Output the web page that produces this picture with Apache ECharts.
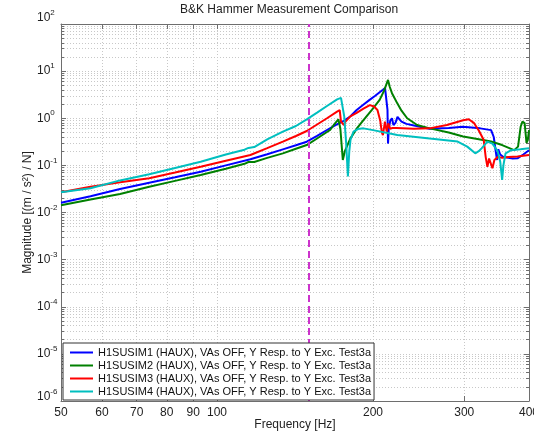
<!DOCTYPE html>
<html><head><meta charset="utf-8">
<script src="https://cdn.jsdelivr.net/npm/echarts@6/dist/echarts.min.js"></script>
<style>html,body{margin:0;padding:0;background:#fff}#c{width:534px;height:436px}</style>
</head><body><div id="c"></div>
<script>
const titleText = 'B&K Hammer Measurement Comparison';
const xName = 'Frequency [Hz]';
const yName = 'Magnitude [(m / s\u00B2) / N]';
const seriesNames = [
  'H1SUSIM1 (HAUX), VAs OFF, Y Resp. to Y Exc. Test3a',
  'H1SUSIM2 (HAUX), VAs OFF, Y Resp. to Y Exc. Test3a',
  'H1SUSIM3 (HAUX), VAs OFF, Y Resp. to Y Exc. Test3a',
  'H1SUSIM4 (HAUX), VAs OFF, Y Resp. to Y Exc. Test3a'
];
const seriesColors = ['#0000ff', '#008000', '#ff0000', '#00bfbf'];

const sim1Freq = [50,57,65,74,83,93,104,116,125,134,142,149,156,163,170,176,181,186,191,197,202,206,209,211,212.6,213.3,213.8,214.5,216,217.6,219,221,223,225,227,232,240,257,280,298,322,338,342,345,347,349,352,357,365,372,380,390,400];
const sim1Mag  = [0.0161,0.0222,0.0314,0.0429,0.0561,0.0734,0.100,0.1345,0.1725,0.219,0.267,0.318,0.425,0.563,0.736,0.89,1.1,1.5,1.88,2.45,3.0,3.57,4.03,4.37,4.65,1.5,0.29,0.6,0.9,1.0,0.72,0.8,1.07,0.95,0.85,0.76,0.7,0.6,0.62,0.66,0.61,0.56,0.4,0.2,0.13,0.22,0.17,0.15,0.145,0.14,0.141,0.17,0.21];

const sim2Freq = [50,57,65,74,83,93,104,113,115,118,125,134,142,149,156,163,165.3,168,171.5,173,174.9,176.5,180.8,186,191.7,199,206,210,213.8,215.5,217.6,222.8,227,232.8,243.3,257.3,280,298.5,320,338,355,367.5,374.5,381,385.4,388.5,392.3,395.6,398,400];
const sim2Mag  = [0.0142,0.0189,0.0247,0.0352,0.0469,0.0625,0.0846,0.108,0.118,0.118,0.144,0.180,0.225,0.27,0.372,0.51,0.563,0.72,0.95,0.6,0.13,0.2,0.37,0.6,0.91,1.5,2.46,3.8,6.5,4.6,3.4,2.07,1.45,1.0,0.72,0.61,0.5,0.41,0.36,0.32,0.27,0.23,0.21,0.25,0.66,0.85,0.79,0.3,0.35,0.56];

const sim3Freq = [50,57,65,74,83,93,104,116,125,134,142,149,156,163,170.5,172.5,173.5,175.6,177,180.8,186,191.7,197.2,201,204,206.5,208,209,210.9,212.6,214,215.8,218,222,240,257,277.7,298.5,306,313,320,327,330,332.5,335,337,340,343,348,355,365,380,400];
const sim3Mag  = [0.0268,0.0352,0.0436,0.0532,0.0703,0.0937,0.1256,0.166,0.232,0.318,0.42,0.537,0.736,1.0,1.38,1.48,0.85,0.72,0.85,1.1,1.3,1.6,1.9,1.77,1.5,0.9,0.5,0.44,0.85,0.52,0.78,0.6,0.62,0.62,0.6,0.61,0.72,0.91,0.95,0.8,0.55,0.35,0.15,0.093,0.14,0.15,0.087,0.13,0.15,0.145,0.15,0.155,0.166];

const sim4Freq = [50,57,65,74,83,93,104,113,115,118,125,134,142,149,156,163,170.5,173.5,175,176,177.5,178.9,180,181,183.4,187,191.7,200,222.8,257.3,291.3,304,315,320,324,332.5,340,348,352,355,357,360.4,369.6,385,400];
const sim4Mag  = [0.0268,0.0326,0.048,0.0647,0.088,0.1197,0.170,0.215,0.235,0.245,0.357,0.519,0.685,0.95,1.32,1.82,2.52,2.7,2.5,1.1,0.3,0.058,0.2,0.35,0.52,0.59,0.61,0.56,0.44,0.37,0.32,0.25,0.18,0.2,0.23,0.32,0.29,0.2,0.12,0.049,0.1,0.18,0.21,0.22,0.23];

const markerFreq = 150;
const xMin = 50, xMax = 400;
const yMin = 1e-6, yMax = 1e2;
const xTicks = [50,60,70,80,90,100,200,300,400];
const yMajorTicks = [1e-6,1e-5,1e-4,1e-3,1e-2,1e-1,1,10,100];
const yMinorTicks = [];
yMajorTicks.slice(0, -1).forEach(d => { for (let k = 1; k <= 9; k++) yMinorTicks.push(+(d * k).toPrecision(3)); });
yMinorTicks.push(100);

const FONT = '"Liberation Sans", Arial, Helvetica, sans-serif';
const freqs = [sim1Freq, sim2Freq, sim3Freq, sim4Freq];
const mags = [sim1Mag, sim2Mag, sim3Mag, sim4Mag];

const axisLineStyle = { color: '#6e6e6e', width: 1 };
const gridLine = { show: true, lineStyle: { color: '#c8c8c8', width: 1, type: [1, 2] } };

const series = seriesNames.map((name, i) => ({
  name, type: 'line', xAxisIndex: 0, yAxisIndex: 0,
  symbol: 'none', smooth: false, z: 2,
  lineStyle: { color: seriesColors[i], width: 2 },
  itemStyle: { color: seriesColors[i] },
  data: freqs[i].map((f, j) => [f, mags[i][j]]),
  markLine: i === 0 ? {
    silent: true, symbol: ['none', 'none'], label: { show: false }, z: 3,
    lineStyle: { color: '#cc33cc', type: [7, 4], width: 2 },
    data: [{ xAxis: markerFreq }]
  } : undefined
}));

function yLabel(v) {
  const e = Math.round(Math.log10(v));
  const main = '{b|10}{s|' + e + '}';
  if (e === 2) return main + '\n{et| }';
  if (e === -6) return main + '\n{em| }';
  return main;
}

const chart = echarts.init(document.getElementById('c'), null, { renderer: 'canvas' });
chart.setOption({
  animation: false,
  backgroundColor: '#fff',
  textStyle: { fontFamily: FONT },
  title: { text: titleText, left: 180, top: 4, padding: 0,
    textStyle: { fontSize: 12, fontWeight: 'normal', color: '#222', fontFamily: FONT } },
  grid: { left: 61, right: 5, top: 24, bottom: 35, containLabel: false, outerBoundsMode: 'none' },
  legend: {
    orient: 'vertical', left: 63, top: 343, padding: [3, 3, 2, 7], itemGap: 0, z: 20,
    icon: 'rect', itemWidth: 23, itemHeight: 2, backgroundColor: '#fff', borderColor: '#333', borderWidth: 1,
    textStyle: { fontSize: 11, lineHeight: 13, color: '#111', fontFamily: FONT },
    data: seriesNames
  },
  xAxis: [
    { type: 'log', logBase: 10, min: xMin, max: xMax, position: 'bottom',
      name: xName, nameLocation: 'middle', nameGap: 18, nameMoveOverlap: false,
      nameTextStyle: { fontSize: 12, color: '#222', fontFamily: FONT },
      axisLine: { show: true, lineStyle: axisLineStyle },
      axisTick: { show: true, inside: true, length: 5, customValues: xTicks, lineStyle: axisLineStyle },
      axisLabel: { customValues: xTicks, margin: 6, fontSize: 12, color: '#222', fontFamily: FONT,
        formatter: v => String(Math.round(v)) },
      splitLine: gridLine, minorTick: { show: false } },
    { type: 'log', logBase: 10, min: xMin, max: xMax, position: 'top',
      axisLine: { show: true, lineStyle: axisLineStyle },
      axisTick: { show: true, inside: true, length: 5, customValues: xTicks, lineStyle: axisLineStyle },
      axisLabel: { show: false }, splitLine: { show: false } }
  ],
  yAxis: [
    { type: 'log', logBase: 10, min: yMin, max: yMax, position: 'left',
      name: yName, nameLocation: 'middle', nameGap: 27, nameMoveOverlap: false,
      nameTextStyle: { fontSize: 12, color: '#222', fontFamily: FONT },
      axisLine: { show: true, lineStyle: axisLineStyle },
      axisTick: { show: true, inside: true, length: 3, customValues: yMinorTicks, lineStyle: axisLineStyle },
      axisLabel: { customValues: yMajorTicks, margin: 24, align: 'left', color: '#222',
        formatter: yLabel,
        rich: { b: { fontSize: 12, color: '#222', fontFamily: FONT, lineHeight: 18 },
                s: { fontSize: 8, color: '#222', fontFamily: FONT, verticalAlign: 'top', lineHeight: 18 },
                et: { fontSize: 1, lineHeight: 12 },
                em: { fontSize: 1, lineHeight: 8 } } },
      splitLine: gridLine },
    { type: 'log', logBase: 10, min: yMin, max: yMax, position: 'left',
      axisLine: { show: false },
      axisTick: { show: true, inside: true, length: 5, customValues: yMajorTicks, lineStyle: axisLineStyle },
      axisLabel: { show: false }, splitLine: { show: false } },
    { type: 'log', logBase: 10, min: yMin, max: yMax, position: 'right',
      axisLine: { show: true, lineStyle: axisLineStyle },
      axisTick: { show: true, inside: true, length: 3, customValues: yMinorTicks, lineStyle: axisLineStyle },
      axisLabel: { show: false }, splitLine: { show: false } },
    { type: 'log', logBase: 10, min: yMin, max: yMax, position: 'right',
      axisLine: { show: false },
      axisTick: { show: true, inside: true, length: 5, customValues: yMajorTicks, lineStyle: axisLineStyle },
      axisLabel: { show: false }, splitLine: { show: false } }
  ],
  series
});
</script></body></html>
